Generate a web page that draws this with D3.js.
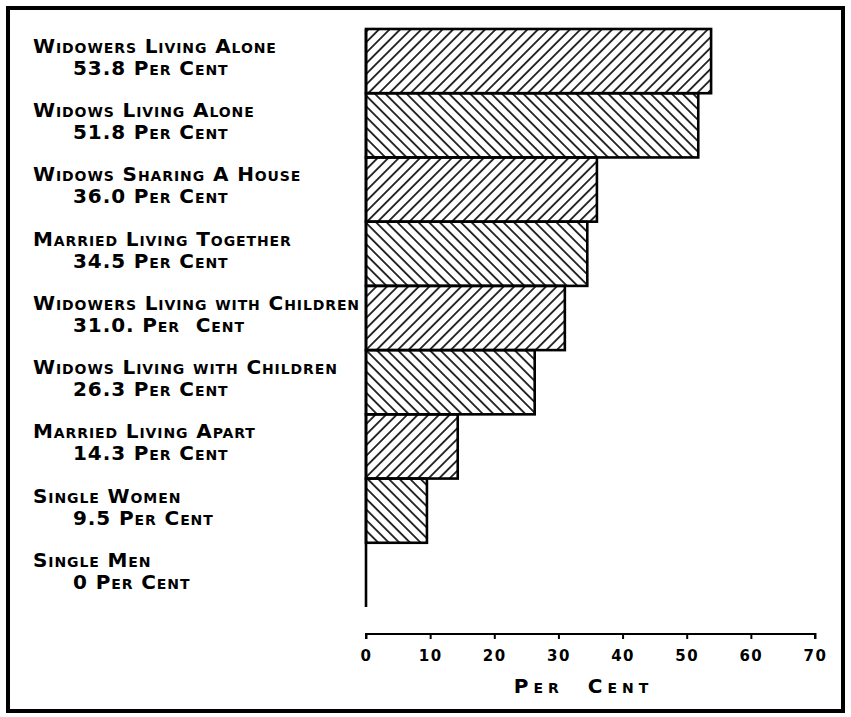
<!DOCTYPE html>
<html><head><meta charset="utf-8">
<script src="https://cdn.jsdelivr.net/npm/d3@7"></script>
<style>
html,body{margin:0;padding:0;background:#fff;}
text{font-family:"DejaVu Sans",sans-serif;font-variant:small-caps;font-weight:700;fill:#000;}
</style></head>
<body><svg id="chart" width="851" height="717"></svg>
<script>
const categories = ["Widowers Living Alone","Widows Living Alone","Widows Sharing A House","Married Living Together","Widowers Living with Children","Widows Living with Children","Married Living Apart","Single Women","Single Men"];
const values = [53.8, 51.8, 36.0, 34.5, 31.0, 26.3, 14.3, 9.5, 0];
const valueLabels = ["53.8 Per Cent","51.8 Per Cent","36.0 Per Cent","34.5 Per Cent","31.0. Per  Cent","26.3 Per Cent","14.3 Per Cent","9.5 Per Cent","0 Per Cent"];
const ticks = [0,10,20,30,40,50,60,70];
const axisTitle = "Per  Cent";

const svg = d3.select("#chart");
const defs = svg.append("defs");
function hatch(id, angle){
  const p = defs.append("pattern").attr("id",id).attr("patternUnits","userSpaceOnUse")
    .attr("width",7.5).attr("height",7.5)
    .attr("patternTransform","rotate("+angle+")");
  p.append("line").attr("x1",3.75).attr("y1",-1).attr("x2",3.75).attr("y2",9)
    .attr("stroke","#000").attr("stroke-width",1.6);
}
hatch("hf",45); hatch("hb",-45);

// frame
svg.append("rect").attr("x",8).attr("y",8).attr("width",835).attr("height",703)
  .attr("fill","none").attr("stroke","#000").attr("stroke-width",4);

const x = d3.scaleLinear().domain([0,70]).range([366,815]);
const y = d3.scaleBand().domain(categories).range([29,607]).padding(0);

// bars
svg.append("g").selectAll("rect").data(categories.filter((c,i)=>values[i]>0)).join("rect")
  .attr("x",x(0)).attr("y",d=>y(d))
  .attr("width",(d,i)=>x(values[i])-x(0)).attr("height",y.bandwidth())
  .attr("fill",(d,i)=>i%2===0?"url(#hf)":"url(#hb)")
  .attr("stroke","#000").attr("stroke-width",2.6);

// left baseline
svg.append("line").attr("x1",x(0)).attr("x2",x(0)).attr("y1",y.range()[0]).attr("y2",y.range()[1])
  .attr("stroke","#000").attr("stroke-width",2.6);

// labels
const lg = svg.append("g");
categories.forEach((c,i)=>{
  lg.append("text").attr("x",33).attr("y",y(c)+24).attr("font-size",20).attr("letter-spacing",0.9).text(c);
  lg.append("text").attr("x",73).attr("y",y(c)+46).attr("font-size",20).attr("letter-spacing",0.9).style("white-space","pre").text(valueLabels[i]);
});

// x axis
const ax = svg.append("g").attr("transform","translate(0,634)")
  .call(d3.axisBottom(x).tickValues(ticks).tickSize(6).tickPadding(10).tickFormat(d3.format("d")));
ax.select(".domain").attr("stroke","#000").attr("stroke-width",2).attr("d","M"+x(0)+",5V0H"+x(70)+"V5");
ax.selectAll(".tick line").attr("stroke","#000").attr("stroke-width",2).attr("y1",-1).attr("y2",5);
ax.selectAll(".tick text").attr("font-size",15).attr("dy","0.75em").attr("letter-spacing",1.5).style("font-family","'DejaVu Sans',sans-serif").style("font-weight",700);
svg.append("text").attr("x",x(35)-7).attr("y",693).attr("text-anchor","middle").attr("font-size",20)
  .attr("letter-spacing",5).style("white-space","pre").text(axisTitle);
</script></body></html>
